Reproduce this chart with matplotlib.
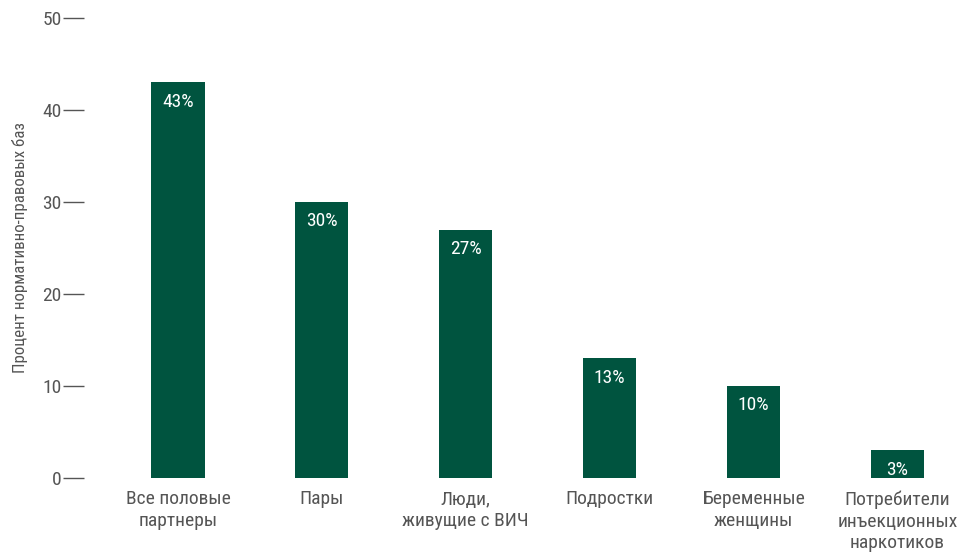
import matplotlib
matplotlib.use("Agg")
import matplotlib.pyplot as plt

categories = ["Все половые\nпартнеры", "Пары", "Люди,\nживущие с ВИЧ",
              "Подростки", "Беременные\nженщины",
              "Потребители\nинъекционных\nнаркотиков"]
values = [43, 30, 27, 13, 10, 3]
yticks = [0, 10, 20, 30, 40, 50]
ylabel = "Процент нормативно-правовых баз"

plt.rcParams["font.family"] = ["Roboto Condensed", "DejaVu Sans"]
plt.rcParams["font.stretch"] = "condensed"

bar_color = "#00543f"
text_color = "#555555"

W, H = 968, 558
fig = plt.figure(figsize=(W / 100, H / 100), dpi=100)
ax = fig.add_axes([84 / W, (H - 478) / H, (W - 84) / W, 460 / H])

x = list(range(len(categories)))
bars = ax.bar(x, values, width=0.37, color=bar_color)

for xi, v in zip(x, values):
    ax.annotate(f"{v}%", (xi, v), xytext=(0, -7.5), textcoords="offset points",
                ha="center", va="top", color="white", fontsize=14)

ax.set_xlim(-0.653, 5.49)
ax.set_ylim(0, 50)
ax.set_yticks(yticks)
ax.set_xticks(x)
ax.set_xticklabels(categories, fontsize=14, color=text_color,
                   linespacing=1.25)
ax.tick_params(axis="x", length=0, pad=9)
ax.tick_params(axis="y", direction="out", length=15, width=1,
               color=text_color, labelcolor=text_color, labelsize=14, pad=1)
for s in ax.spines.values():
    s.set_visible(False)
ax.set_ylabel(ylabel, fontsize=12.2, color=text_color)
ax.yaxis.set_label_coords(-56 / (W - 84), 0.5)

fig.savefig("out.png", dpi=100)
